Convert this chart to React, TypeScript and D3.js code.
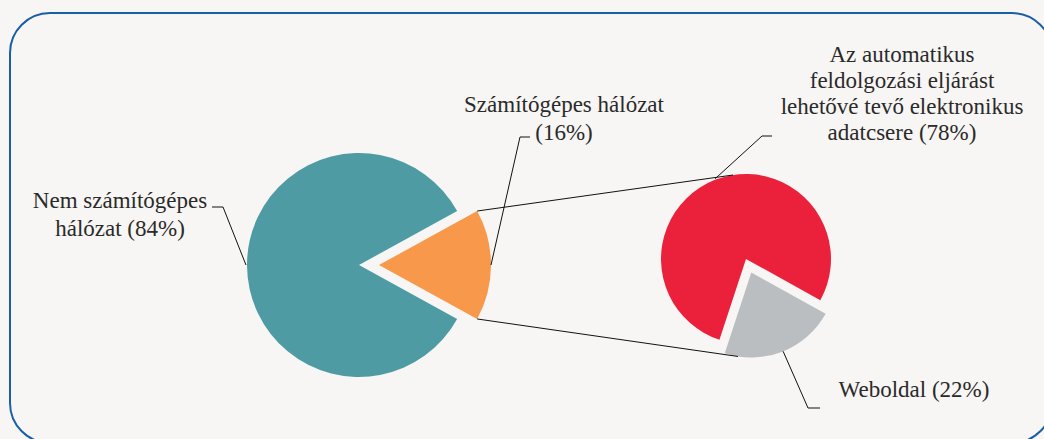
import React from "react";
import * as d3 from "d3";

// main pie: share of companies using networks
const mainLabels = [["Nem számítógépes", "hálózat (84%)"], ["Számítógépes hálózat", "(16%)"]];
const mainValues = [84, 16];
const mainColors = ["#4e9ba4", "#f7984a"];

// second pie: breakdown of the network slice
const subLabels = [
  ["Az automatikus", "feldolgozási eljárást", "lehetővé tevő elektronikus", "adatcsere (78%)"],
  ["Weboldal (22%)"],
];
const subValues = [78, 22];
const subColors = ["#eb213c", "#babec1"];

const W = 1044;
const H = 439;
const deg = Math.PI / 180;
const font = "'Liberation Serif', 'Times New Roman', serif";

const pt = (cx: number, cy: number, r: number, a: number): [number, number] => [
  cx + r * Math.sin(a),
  cy - r * Math.cos(a),
];

const App: React.FC = () => {
  // left pie
  const c1 = { x: 359, y: 265 };
  const r1 = 112;
  const share1 = mainValues[1] / d3.sum(mainValues);
  const start1 = Math.PI / 2 + share1 * Math.PI;
  const pie1 = d3.pie<number>().sort(null).startAngle(start1).endAngle(start1 + 2 * Math.PI)(mainValues);
  const arc1 = d3.arc<d3.PieArcDatum<number>>().innerRadius(0).outerRadius(r1);
  const ex1 = 20;
  const orange = pie1[1];
  const oMid = (orange.startAngle + orange.endAngle) / 2;
  const oc = pt(c1.x, c1.y, ex1, oMid);

  // right pie
  const c2 = { x: 746, y: 259 };
  const r2 = 85;
  const share2 = subValues[1] / d3.sum(subValues);
  const greyMid = 158.6 * deg;
  const start2 = greyMid + share2 * Math.PI;
  const pie2 = d3.pie<number>().sort(null).startAngle(start2).endAngle(start2 + 2 * Math.PI)(subValues);
  const arc2 = d3.arc<d3.PieArcDatum<number>>().innerRadius(0).outerRadius(r2);
  const ex2 = 14.5;
  const gc = pt(c2.x, c2.y, ex2, greyMid);

  // connectors
  const oTop = pt(oc[0], oc[1], r1, orange.startAngle);
  const oBot = pt(oc[0], oc[1], r1, orange.endAngle);
  const rTop = pt(c2.x, c2.y, r2, -8.8 * deg);
  const gBot = pt(gc[0], gc[1], r2, 189 * deg);

  // leader lines
  const tealEdge = pt(c1.x, c1.y, r1 + 1, 270 * deg);
  const orangeEdge = pt(oc[0], oc[1], r1, oMid);
  const redEdge = pt(c2.x, c2.y, r2 + 1, 339 * deg);
  const greyEdge = pt(gc[0], gc[1], r2, 158 * deg);

  const line = d3.line();

  const label = (lines: string[], x: number, y: number, lh: number) => (
    <text x={x} y={y} textAnchor="middle" style={{ fontFamily: font, fontSize: 23 }} fill="#2a2a2a">
      {lines.map((l, i) => (
        <tspan key={i} x={x} dy={i === 0 ? 0 : lh}>
          {l}
        </tspan>
      ))}
    </text>
  );

  return (
    <div>
      <style>{`body{margin:0;background:#f7f6f4}`}</style>
      <svg width={W} height={H} style={{ display: "block", background: "#f7f6f4" }}>
        <rect x={10} y={13} width={1042} height={430} rx={40} ry={40} fill="none" stroke="#1a5fa6" strokeWidth={2} />

        <g transform={`translate(${c1.x},${c1.y})`}>
          <path d={arc1(pie1[0]) || ""} fill={mainColors[0]} />
        </g>
        <g transform={`translate(${oc[0]},${oc[1]})`}>
          <path d={arc1(orange) || ""} fill={mainColors[1]} />
        </g>

        <g transform={`translate(${c2.x},${c2.y})`}>
          <path d={arc2(pie2[0]) || ""} fill={subColors[0]} />
        </g>
        <g transform={`translate(${gc[0]},${gc[1]})`}>
          <path d={arc2(pie2[1]) || ""} fill={subColors[1]} />
        </g>

        <g fill="none" stroke="#111" strokeWidth={1}>
          <path d={line([oTop, rTop]) || ""} />
          <path d={line([oBot, gBot]) || ""} />
          <path d={line([tealEdge, [223, 207], [212, 207]]) || ""} />
          <path d={line([orangeEdge, [520, 137], [530, 137]]) || ""} />
          <path d={line([redEdge, [762, 136], [772, 136]]) || ""} />
          <path d={line([greyEdge, [808, 408], [820, 408]]) || ""} />
        </g>

        {label(mainLabels[0], 120, 208, 28)}
        {label(mainLabels[1], 564, 112, 28)}
        {label(subLabels[0], 902, 62, 26)}
        {label(subLabels[1], 914, 397, 26)}
      </svg>
    </div>
  );
};

export default App;
